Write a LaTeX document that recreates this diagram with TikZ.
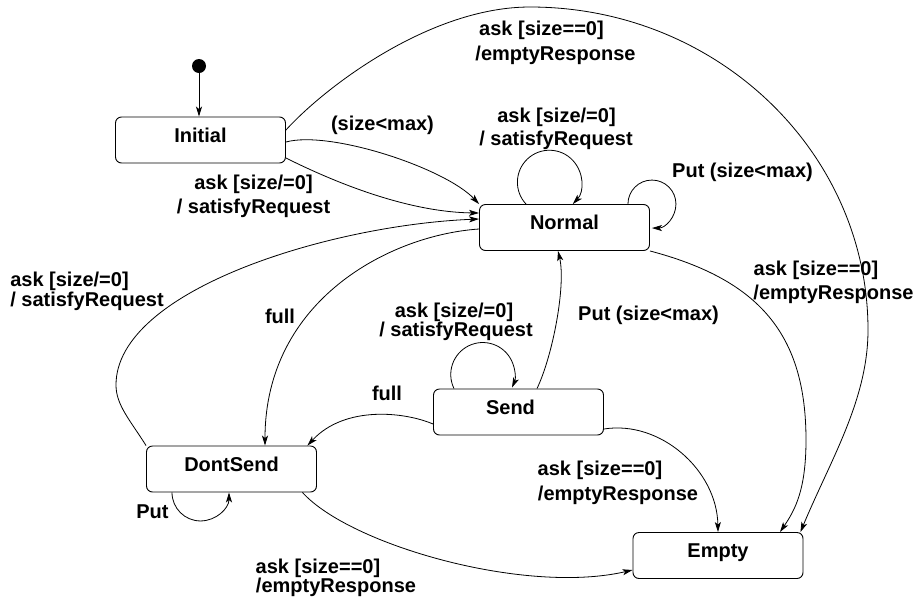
\documentclass[tikz,border=0pt]{standalone}
\usepackage{fontspec}
\setmainfont{Liberation Sans}
\usetikzlibrary{arrows.meta}
\newcommand\lblfont{\fontsize{20}{24}\selectfont\bfseries}
\begin{document}
\begin{tikzpicture}[x=1pt,y=-1pt,
  state/.style={draw, rounded corners=6pt, minimum width=170pt, minimum height=46pt,
    line width=0.9pt, inner sep=0pt, text height=14pt, text depth=9.6pt, font=\lblfont},
  lbl/.style={inner sep=0pt, font=\lblfont},
  edge/.style={line width=0.8pt, -{Stealth[length=10pt,width=6pt,inset=2.5pt]}}]
\useasboundingbox (0,0) rectangle (919,598);

% states
\node[circle, fill, inner sep=0pt, minimum size=14pt] (start) at (199,66) {};
\node[state] (init)     at (200.5,140) {Initial};
\node[state] (normal)   at (564.5,227.5) {Normal};
\node[state] (send)     at (518.5,412) {\hspace*{-16pt}Send};
\node[state] (dontsend) at (231.5,469) {DontSend};
\node[state] (empty)    at (718,555.5) {Empty};

% transitions
\draw[edge] (start) -- (start |- init.north);

\draw[edge] ([yshift=10pt]init.east) .. controls (325,87) and (430,7) .. (530,7)
  .. controls (717,7) and (868,152) .. (868,330)
  .. controls (868,400) and (830,461) .. ([xshift=-3pt]empty.north east);

\draw[edge] ([yshift=-2pt]init.east) .. controls (330,130) and (445,168) .. (normal.north west);
\draw[edge] ([yshift=-18pt]init.east) .. controls (320,175) and (400,212) .. ([yshift=14.5pt]normal.west);

\draw[edge] (dontsend.north west) .. controls (130,420) and (116,405) .. (116,385)
  .. controls (116,290) and (330,225) .. ([yshift=8.5pt]normal.west);
\draw[edge] ([yshift=-1.5pt]normal.west) .. controls (390,235) and (265,300) .. ([xshift=33.5pt]dontsend.north);

\draw[edge] ([xshift=-38.5pt]normal.north) arc[start angle=137, end angle=403, radius=32];
\draw[edge] ([xshift=-22pt]normal.north east) arc[start angle=180, end angle=450, radius=24];

\draw[edge] (normal.south east) .. controls (760,280) and (806,335) .. (806,440)
  .. controls (806,490) and (795,510) .. ([xshift=62pt]empty.north);

\draw[edge] ([xshift=18.5pt]send.north) .. controls (553,355) and (566,285) .. ([xshift=-6.5pt]normal.south);
\draw[edge] ([xshift=-64.5pt]send.north) arc[start angle=154, end angle=384, radius=32];
\draw[edge] ([yshift=-12pt]send.west) .. controls (405,412) and (345,405) .. ([xshift=-9.5pt]dontsend.north east);
\draw[edge] ([yshift=-17pt]send.east) .. controls (660,420) and (717,470) .. (empty.north);

\draw[edge] ([xshift=-59.5pt]dontsend.south) arc[start angle=180, end angle=0, radius=28.5];
\draw[edge] ([xshift=-14.5pt]dontsend.south east) .. controls (350,545) and (525,595) .. ([yshift=-14.5pt]empty.west);

% transition labels
\node[lbl] (t1a) at (541.5,30) {ask [size==0]};
\node[lbl] (t1b) at (555.5,55.5) {/emptyResponse};
\node[lbl] (t2) at (382.5,125.5) {(size<max)};
\node[lbl] (t3a) at (253.5,184) {ask [size/=0]};
\node[lbl] (t3b) at (253.5,208.5) {/ satisfyRequest};
\node[lbl] (t4a) at (556.5,117.5) {ask [size/=0]};
\node[lbl] (t4b) at (556,140.5) {/ satisfyRequest};
\node[lbl] (t5) at (742.5,172.5) {Put (size<max)};
\node[lbl] (t6a) at (816,270.5) {ask [size==0]};
\node[lbl] (t6b) at (833.5,294.5) {/emptyResponse};
\node[lbl] (t7a) at (69.5,281) {ask [size/=0]};
\node[lbl] (t7b) at (87,301) {/ satisfyRequest};
\node[lbl] (t8) at (280,316) {full};
\node[lbl] (t9) at (648.5,315.5) {Put (size<max)};
\node[lbl] (t10a) at (454,312.5) {ask [size/=0]};
\node[lbl] (t10b) at (456,331.5) {/ satisfyRequest};
\node[lbl] (t11) at (387,393.5) {full};
\node[lbl] (t12a) at (600,470.5) {ask [size==0]};
\node[lbl] (t12b) at (618,495) {/emptyResponse};
\node[lbl] (t13) at (152.5,511.5) {Put};
\node[lbl] (t14a) at (318,568) {ask [size==0]};
\node[lbl] (t14b) at (336,587.5) {/emptyResponse};
\end{tikzpicture}
\end{document}
